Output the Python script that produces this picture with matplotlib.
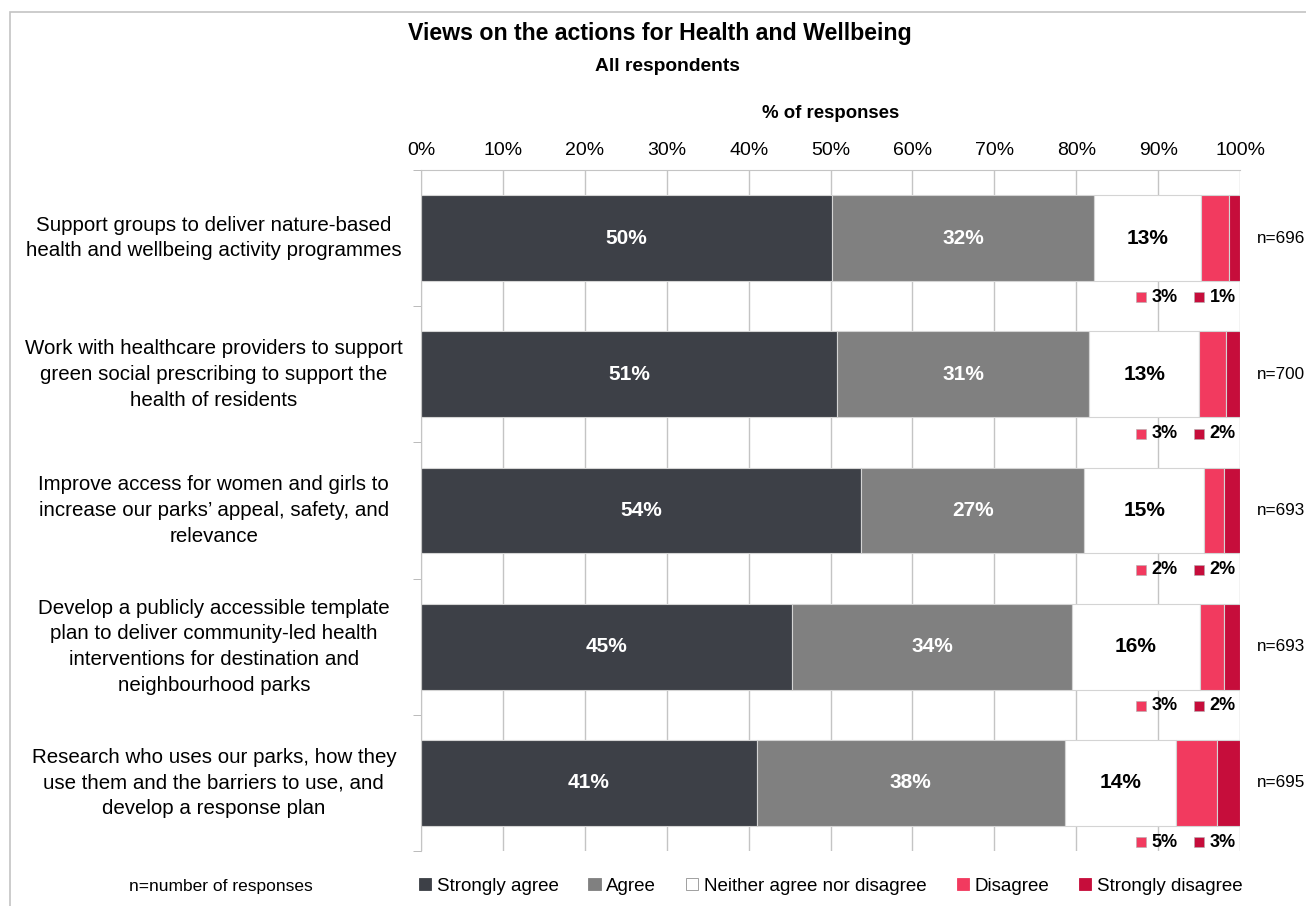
import matplotlib
matplotlib.use("Agg")
import matplotlib.pyplot as plt
from matplotlib.patches import Patch, Rectangle

plt.rcParams["font.family"] = ["Liberation Sans", "DejaVu Sans"]

actions = [
    "Support groups to deliver nature-based\nhealth and wellbeing activity programmes",
    "Work with healthcare providers to support\ngreen social prescribing to support the\nhealth of residents",
    "Improve access for women and girls to\nincrease our parks\u2019 appeal, safety, and\nrelevance",
    "Develop a publicly accessible template\nplan to deliver community-led health\ninterventions for destination and\nneighbourhood parks",
    "Research who uses our parks, how they\nuse them and the barriers to use, and\ndevelop a response plan",
]
responses = ["Strongly agree", "Agree", "Neither agree nor disagree", "Disagree", "Strongly disagree"]

# % of responses per action, one list per answer
strongly_agree = [50.2, 50.8, 53.7, 45.3, 41.0]
agree = [32.0, 30.8, 27.3, 34.2, 37.6]
neither = [13.0, 13.4, 14.6, 15.6, 13.6]
disagree = [3.4, 3.3, 2.4, 3.0, 5.0]
strongly_disagree = [1.4, 1.7, 2.0, 1.9, 2.8]
n_responses = [696, 700, 693, 693, 695]

colors = ["#3d4047", "#808080", "#ffffff", "#f23a5f", "#c60d3b"]
text_colors = ["white", "white", "black"]

series = [strongly_agree, agree, neither, disagree, strongly_disagree]

fig = plt.figure(figsize=(13.06, 9.06), dpi=100)
ax = fig.add_axes([0.3224, 0.0607, 0.6271, 0.7517])

ypos = list(range(len(actions)))
left = [0.0] * len(actions)
for k, vals in enumerate(series):
    ax.barh(ypos, vals, left=left, height=0.63, color=colors[k],
            edgecolor="#d4d4d4", linewidth=0.8, zorder=2)
    if k < 3:
        for i, v in enumerate(vals):
            ax.text(left[i] + v / 2, i, f"{round(v)}%", ha="center", va="center",
                    color=text_colors[k], fontsize=15, fontweight="bold", zorder=3)
    left = [l + v for l, v in zip(left, vals)]

# small segments get their labels below the bar
for i in ypos:
    yl = i + 0.435
    for x0, vals, c in [(87.9, disagree, colors[3]), (95.0, strongly_disagree, colors[4])]:
        ax.plot(x0, yl, marker="s", ms=7.5, color=c, mec="#b0b0b0", mew=0.4,
                clip_on=False, zorder=3)
        ax.text(x0 + 1.3, yl, f"{round(vals[i])}%", ha="left", va="center",
                fontsize=13, fontweight="bold", zorder=3)
    ax.text(102.0, i, f"n={n_responses[i]}", ha="left", va="center",
            fontsize=12.3, clip_on=False)
    ax.text(-25.3, i, actions[i], ha="center", va="center", multialignment="center",
            fontsize=14.8, linespacing=1.45, clip_on=False)

ax.set_xlim(0, 100)
ax.set_ylim(4.5, -0.5)
ax.xaxis.tick_top()
ax.set_xticks(range(0, 101, 10))
ax.set_xticklabels([f"{t}%" for t in range(0, 101, 10)], fontsize=14)
ax.tick_params(axis="x", length=0, pad=8)
ax.set_yticks([])
ax.set_yticks([i + 0.5 for i in range(-1, 5)], minor=True)
ax.tick_params(axis="y", which="minor", length=6, color="#b0b0b0", labelleft=False)
ax.xaxis.grid(True, color="#c4c4c4", lw=1, zorder=0)
ax.set_axisbelow(True)
for side in ["right", "bottom"]:
    ax.spines[side].set_visible(False)
for side in ["left", "top"]:
    ax.spines[side].set_color("#c4c4c4")

ax.set_xlabel("% of responses", fontsize=13.4, fontweight="bold", labelpad=17)
ax.xaxis.set_label_position("top")

fig.text(0.505, 0.963, "Views on the actions for Health and Wellbeing",
         ha="center", va="center", fontsize=16.7, fontweight="bold")
fig.text(0.511, 0.927, "All respondents", ha="center", va="center",
         fontsize=13.9, fontweight="bold")

handles = [Patch(facecolor=c, edgecolor="#909090" if c == "#ffffff" else c, lw=0.6)
           for c in colors]
fig.legend(handles, responses, loc="center", bbox_to_anchor=(0.636, 0.022), ncol=5,
           frameon=False, fontsize=13.5, handlelength=0.65, handleheight=0.65,
           handletextpad=0.3, columnspacing=1.6)
fig.text(0.169, 0.022, "n=number of responses", ha="center", va="center", fontsize=12.5)

fig.patches.append(Rectangle((10 / 1306, -0.1), 1.2, 1.1 - 12 / 906, transform=fig.transFigure,
                             fill=False, edgecolor="#c4c4c4", lw=1.2))

fig.savefig("out.png", dpi=100)
